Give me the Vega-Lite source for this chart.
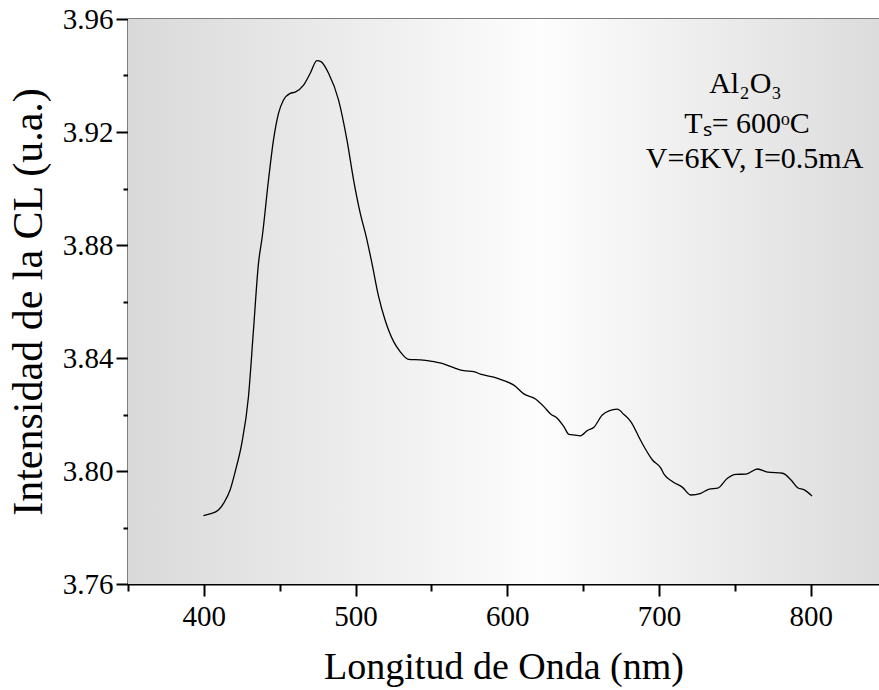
{
  "$schema": "https://vega.github.io/schema/vega-lite/v6.json",
  "width": 751,
  "height": 565,
  "autosize": {"type": "none"},
  "padding": {"left": 128, "top": 19, "right": 0, "bottom": 106},
  "background": "white",
  "config": {
    "view": {"stroke": null},
    "font": "Liberation Serif",
    "axis": {
      "labelFont": "Liberation Serif",
      "titleFont": "Liberation Serif",
      "labelColor": "black",
      "titleColor": "black",
      "domainColor": "black",
      "tickColor": "black",
      "domainWidth": 2,
      "tickWidth": 2,
      "grid": false,
      "labelFontSize": 29,
      "titleFontSize": 38,
      "titleFontWeight": "normal"
    }
  },
  "layer": [
    {
      "data": {"values": [{"x0": 350, "x1": 845, "y0": 3.76, "y1": 3.96}]},
      "mark": {
        "type": "rect",
        "fill": {
          "gradient": "linear",
          "x1": 0, "y1": 0, "x2": 1, "y2": 0,
          "stops": [
            {"offset": 0, "color": "#d9d9d9"},
            {"offset": 0.55, "color": "#fdfdfd"},
            {"offset": 1, "color": "#dcdcdc"}
          ]
        }
      },
      "encoding": {
        "x": {
          "field": "x0", "type": "quantitative",
          "scale": {"domain": [350, 845], "nice": false, "zero": false},
          "axis": {"orient": "bottom", "values": [350, 450, 550, 650, 750], "labels": false, "domain": false, "tickSize": 7, "title": null}
        },
        "x2": {"field": "x1"},
        "y": {
          "field": "y0", "type": "quantitative",
          "scale": {"domain": [3.76, 3.96], "nice": false, "zero": false},
          "axis": {"orient": "left", "values": [3.78, 3.82, 3.86, 3.9, 3.94], "labels": false, "domain": false, "tickSize": 5, "title": null}
        },
        "y2": {"field": "y1"}
      }
    },
    {
      "data": {
        "values": [
          {"wl": 399.7, "cl": 3.7842},
          {"wl": 404.0, "cl": 3.7848},
          {"wl": 409.6, "cl": 3.7862},
          {"wl": 413.5, "cl": 3.7890},
          {"wl": 417.3, "cl": 3.7933},
          {"wl": 421.0, "cl": 3.8005},
          {"wl": 425.0, "cl": 3.8098},
          {"wl": 429.4, "cl": 3.8263},
          {"wl": 432.7, "cl": 3.8499},
          {"wl": 436.0, "cl": 3.8735},
          {"wl": 438.5, "cl": 3.8830},
          {"wl": 442.6, "cl": 3.9030},
          {"wl": 445.9, "cl": 3.9172},
          {"wl": 449.2, "cl": 3.9266},
          {"wl": 452.5, "cl": 3.9313},
          {"wl": 456.9, "cl": 3.9337},
          {"wl": 460.2, "cl": 3.9341},
          {"wl": 465.7, "cl": 3.9366},
          {"wl": 470.1, "cl": 3.9408},
          {"wl": 474.5, "cl": 3.9453},
          {"wl": 477.2, "cl": 3.9449},
          {"wl": 482.2, "cl": 3.9408},
          {"wl": 488.8, "cl": 3.9313},
          {"wl": 494.3, "cl": 3.9172},
          {"wl": 498.7, "cl": 3.9030},
          {"wl": 503.1, "cl": 3.8912},
          {"wl": 507.0, "cl": 3.8830},
          {"wl": 510.8, "cl": 3.8735},
          {"wl": 515.2, "cl": 3.8617},
          {"wl": 519.6, "cl": 3.8532},
          {"wl": 525.1, "cl": 3.8458},
          {"wl": 529.5, "cl": 3.8422},
          {"wl": 535.0, "cl": 3.8395},
          {"wl": 542.7, "cl": 3.8393},
          {"wl": 549.3, "cl": 3.8389},
          {"wl": 557.0, "cl": 3.8381},
          {"wl": 564.7, "cl": 3.8366},
          {"wl": 571.3, "cl": 3.8355},
          {"wl": 577.9, "cl": 3.8352},
          {"wl": 582.3, "cl": 3.8343},
          {"wl": 591.1, "cl": 3.8332},
          {"wl": 597.7, "cl": 3.8320},
          {"wl": 604.3, "cl": 3.8304},
          {"wl": 610.9, "cl": 3.8273},
          {"wl": 618.6, "cl": 3.8255},
          {"wl": 624.1, "cl": 3.8228},
          {"wl": 628.5, "cl": 3.8202},
          {"wl": 632.9, "cl": 3.8187},
          {"wl": 637.3, "cl": 3.8157},
          {"wl": 640.6, "cl": 3.8130},
          {"wl": 645.0, "cl": 3.8127},
          {"wl": 647.9, "cl": 3.8124},
          {"wl": 652.7, "cl": 3.8143},
          {"wl": 657.1, "cl": 3.8155},
          {"wl": 662.6, "cl": 3.8198},
          {"wl": 667.0, "cl": 3.8213},
          {"wl": 672.5, "cl": 3.8219},
          {"wl": 676.9, "cl": 3.8200},
          {"wl": 681.4, "cl": 3.8175},
          {"wl": 688.0, "cl": 3.8107},
          {"wl": 695.7, "cl": 3.8039},
          {"wl": 701.2, "cl": 3.8010},
          {"wl": 703.4, "cl": 3.7988},
          {"wl": 709.0, "cl": 3.7962},
          {"wl": 715.5, "cl": 3.7942},
          {"wl": 721.0, "cl": 3.7915},
          {"wl": 727.6, "cl": 3.7921},
          {"wl": 733.1, "cl": 3.7936},
          {"wl": 738.6, "cl": 3.7939},
          {"wl": 745.1, "cl": 3.7974},
          {"wl": 750.6, "cl": 3.7988},
          {"wl": 757.3, "cl": 3.7989},
          {"wl": 765.0, "cl": 3.8007},
          {"wl": 771.6, "cl": 3.7996},
          {"wl": 781.5, "cl": 3.7992},
          {"wl": 787.0, "cl": 3.7968},
          {"wl": 791.4, "cl": 3.7941},
          {"wl": 795.8, "cl": 3.7933},
          {"wl": 800.9, "cl": 3.7911}
        ]
      },
      "mark": {"type": "line", "color": "black", "strokeWidth": 1.3, "interpolate": "monotone"},
      "encoding": {
        "x": {
          "field": "wl", "type": "quantitative",
          "axis": {"orient": "bottom", "values": [400, 500, 600, 700, 800], "tickSize": 12, "labelPadding": 6, "title": "Longitud de Onda (nm)", "titlePadding": 17}
        },
        "y": {
          "field": "cl", "type": "quantitative",
          "axis": {"orient": "left", "values": [3.76, 3.8, 3.84, 3.88, 3.92, 3.96], "format": ".2f", "tickSize": 12, "labelPadding": 3, "title": "Intensidad de la CL (u.a.)", "titleFontSize": 42, "titlePadding": 12}
        }
      }
    },
    {
      "data": {
        "values": [
          {"tx": 757, "ty": 3.9338, "label": "Al₂O₃"},
          {"tx": 758, "ty": 3.9196, "label": "Tₛ= 600ᵒC"},
          {"tx": 763, "ty": 3.9073, "label": "V=6KV, I=0.5mA"}
        ]
      },
      "mark": {"type": "text", "font": "Liberation Serif", "fontSize": 30, "align": "center", "baseline": "alphabetic", "color": "black"},
      "encoding": {
        "x": {
          "field": "tx", "type": "quantitative",
          "axis": {"orient": "top", "labels": false, "values": [400, 450, 500, 550, 600, 650, 700, 750, 800], "tickSize": -4, "title": null}
        },
        "y": {"field": "ty", "type": "quantitative", "axis": null},
        "text": {"field": "label"}
      }
    }
  ],
  "resolve": {"axis": {"x": "independent", "y": "independent"}}
}
